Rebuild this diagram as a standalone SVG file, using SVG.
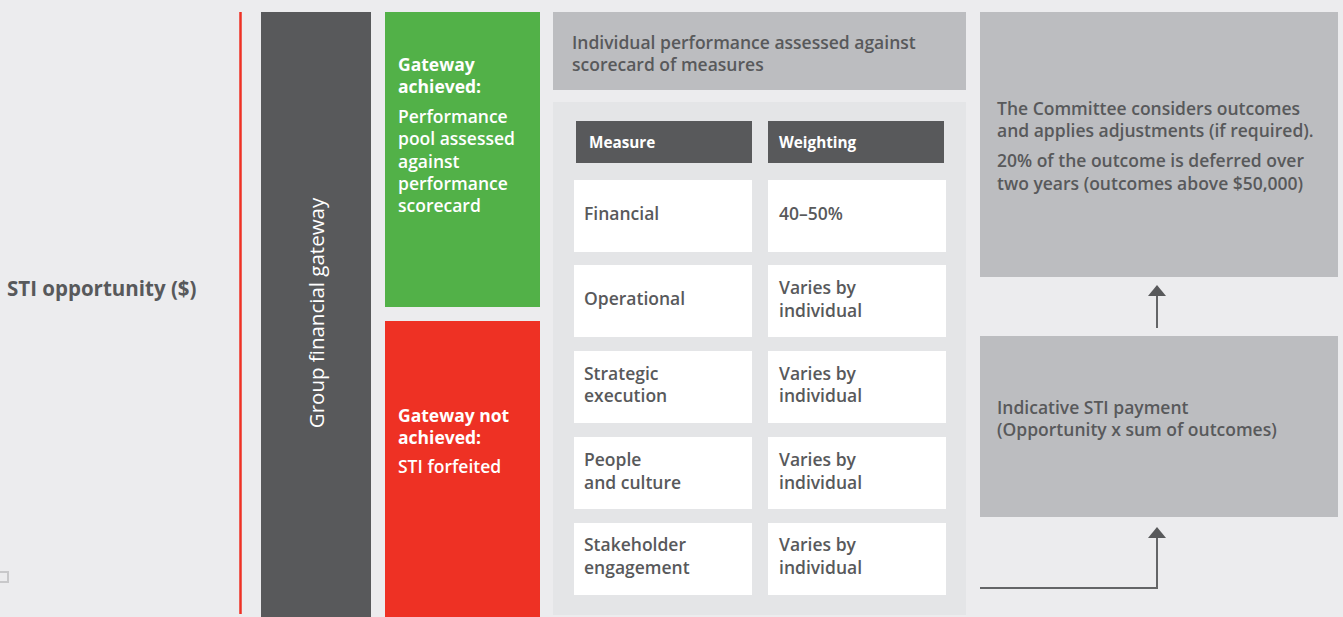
<svg xmlns="http://www.w3.org/2000/svg" width="1343" height="617" viewBox="0 0 1343 617">
  <defs>
    <style>
      .t { font-family: "Open Sans", "Liberation Sans", sans-serif; font-weight: 600; font-size: 17.5px; }
      .b { font-weight: 700; }
      .r { font-weight: 400; }
      .dark { fill: #58595b; }
      .white { fill: #ffffff; }
      .hd { font-size: 15.3px; }
      .big { font-size: 20.5px; }
      .cell { fill: #ffffff; }
      .conn { stroke: #646567; stroke-width: 2; fill: none; }
    </style>
    <!-- arrowhead: base sits on the line end, tip points ahead -->
    <marker id="arrow" viewBox="0 0 11 18" refX="0" refY="9" markerWidth="11" markerHeight="18" markerUnits="userSpaceOnUse" orient="auto">
      <path d="M0,0 L11,9 L0,18 Z" fill="#58595b"/>
    </marker>
  </defs>

  <rect width="1343" height="617" fill="#ececee"/>

  <!-- small outlined square at left edge -->
  <rect x="-2" y="572" width="10" height="10" fill="none" stroke="#c8c8ca" stroke-width="2"/>

  <g id="sti-opportunity">
    <text class="t b big dark" x="7" y="296">STI opportunity ($)</text>
  </g>

  <!-- red divider -->
  <line x1="240.5" y1="12" x2="240.5" y2="614" stroke="#ee3124" stroke-width="2.5"/>

  <g id="group-gateway">
    <rect x="261" y="12" width="110" height="605" fill="#58595b"/>
    <text class="t r big white" x="0" y="0" text-anchor="middle" transform="translate(324 313) rotate(-90)">Group financial gateway</text>
  </g>

  <g id="gateway-achieved">
    <rect x="385" y="12" width="155" height="295" fill="#52b148"/>
    <text class="t b white">
      <tspan x="398" y="71">Gateway</tspan>
      <tspan x="398" y="93">achieved:</tspan>
    </text>
    <text class="t white">
      <tspan x="398" y="123">Performance</tspan>
      <tspan x="398" y="145">pool assessed</tspan>
      <tspan x="398" y="168">against</tspan>
      <tspan x="398" y="190">performance</tspan>
      <tspan x="398" y="212">scorecard</tspan>
    </text>
  </g>

  <g id="gateway-not-achieved">
    <rect x="385" y="321" width="155" height="296" fill="#ee3124"/>
    <text class="t b white">
      <tspan x="398" y="422">Gateway not</tspan>
      <tspan x="398" y="444">achieved:</tspan>
    </text>
    <text class="t white">
      <tspan x="398" y="473">STI forfeited</tspan>
    </text>
  </g>

  <g id="individual-performance">
    <rect x="553" y="12" width="413" height="78" fill="#bcbdc0"/>
    <text class="t dark">
      <tspan x="572" y="49">Individual performance assessed against</tspan>
      <tspan x="572" y="71">scorecard of measures</tspan>
    </text>
  </g>

  <g id="scorecard">
    <rect x="553" y="102" width="413" height="513" fill="#e4e5e7"/>
    <rect x="576" y="121" width="176" height="42" fill="#58595b"/>
    <rect x="768" y="121" width="176" height="42" fill="#58595b"/>
    <text class="t b hd white" x="589" y="148">Measure</text>
    <text class="t b hd white" x="779" y="148">Weighting</text>

    <rect class="cell" x="574" y="180" width="178" height="72"/>
    <rect class="cell" x="768" y="180" width="178" height="72"/>
    <rect class="cell" x="574" y="265" width="178" height="72"/>
    <rect class="cell" x="768" y="265" width="178" height="72"/>
    <rect class="cell" x="574" y="351" width="178" height="72"/>
    <rect class="cell" x="768" y="351" width="178" height="72"/>
    <rect class="cell" x="574" y="437" width="178" height="72"/>
    <rect class="cell" x="768" y="437" width="178" height="72"/>
    <rect class="cell" x="574" y="523" width="178" height="72"/>
    <rect class="cell" x="768" y="523" width="178" height="72"/>

    <g class="t dark">
      <text x="584" y="220">Financial</text>
      <text x="779" y="220">40–50%</text>
      <text x="584" y="305">Operational</text>
      <text><tspan x="779" y="294">Varies by</tspan><tspan x="779" y="317">individual</tspan></text>
      <text><tspan x="584" y="380">Strategic</tspan><tspan x="584" y="402">execution</tspan></text>
      <text><tspan x="779" y="380">Varies by</tspan><tspan x="779" y="402">individual</tspan></text>
      <text><tspan x="584" y="466">People</tspan><tspan x="584" y="489">and culture</tspan></text>
      <text><tspan x="779" y="466">Varies by</tspan><tspan x="779" y="489">individual</tspan></text>
      <text><tspan x="584" y="551">Stakeholder</tspan><tspan x="584" y="574">engagement</tspan></text>
      <text><tspan x="779" y="551">Varies by</tspan><tspan x="779" y="574">individual</tspan></text>
    </g>
  </g>

  <g id="committee">
    <rect x="980" y="12" width="358" height="265" fill="#bcbdc0"/>
    <text class="t dark">
      <tspan x="997" y="115">The Committee considers outcomes</tspan>
      <tspan x="997" y="137">and applies adjustments (if required).</tspan>
      <tspan x="997" y="167">20% of the outcome is deferred over</tspan>
      <tspan x="997" y="190">two years (outcomes above $50,000)</tspan>
    </text>
  </g>

  <g id="indicative-payment">
    <rect x="980" y="336" width="358" height="181" fill="#bcbdc0"/>
    <text class="t dark">
      <tspan x="997" y="414">Indicative STI payment</tspan>
      <tspan x="997" y="436">(Opportunity x sum of outcomes)</tspan>
    </text>
  </g>

  <g id="connectors">
    <path class="conn" d="M1157,328 L1157,296" marker-end="url(#arrow)"/>
    <path class="conn" d="M980,588 L1157,588 L1157,538" marker-end="url(#arrow)"/>
  </g>
</svg>
